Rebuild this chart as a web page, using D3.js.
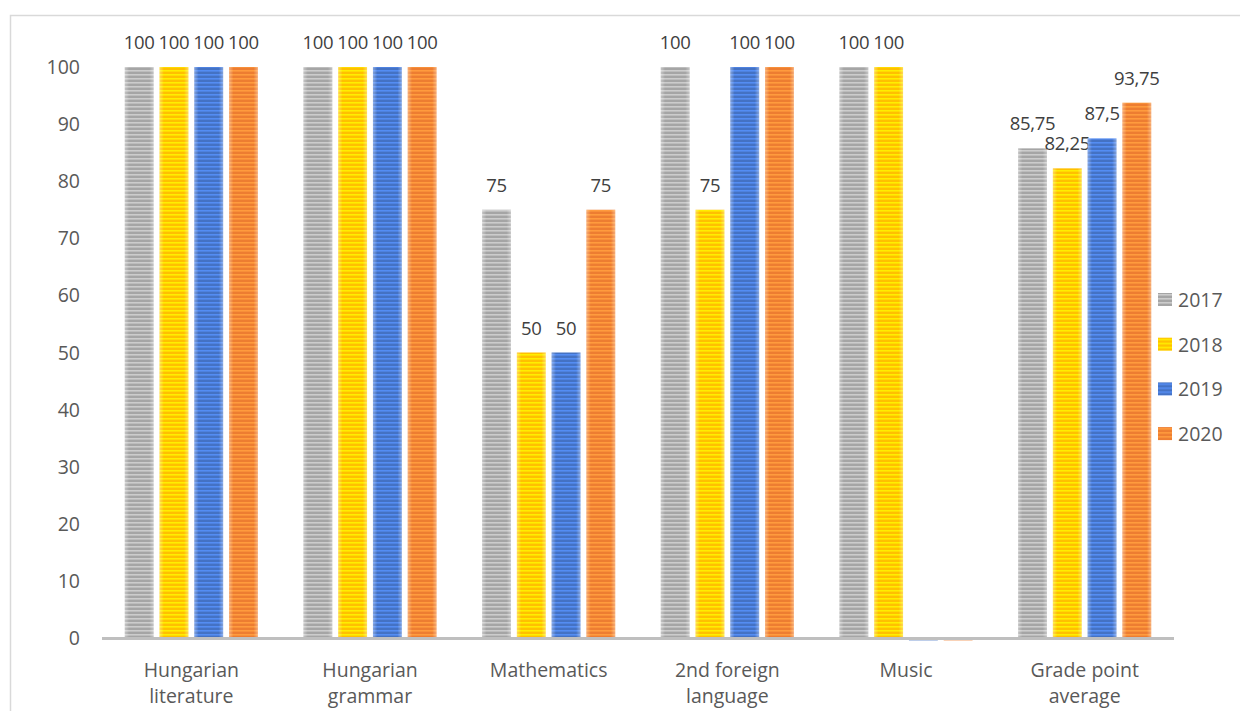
<!DOCTYPE html>
<html>
<head>
<meta charset="utf-8">
<script src="https://cdn.jsdelivr.net/npm/d3@7"></script>
<style>
  body { margin: 0; background: #fff; }
  svg { display: block; font-family: "Open Sans", sans-serif; }
</style>
</head>
<body>
<div id="chart"></div>
<script>
// chart data
var categories = ["Hungarian literature", "Hungarian grammar", "Mathematics", "2nd foreign language", "Music", "Grade point average"];
var years = ["2017", "2018", "2019", "2020"];
var v2017 = [100, 100, 75, 100, 100, 85.75];
var v2018 = [100, 100, 50, 75, 100, 82.25];
var v2019 = [100, 100, 50, 100, 0, 87.5];
var v2020 = [100, 100, 75, 100, 0, 93.75];
var yTicks = [0, 10, 20, 30, 40, 50, 60, 70, 80, 90, 100];

var series = [v2017, v2018, v2019, v2020];
var colors = ["#a5a5a5", "#ffc000", "#4472c4", "#ed7d31"];

var W = 1240, H = 711;
var svg = d3.select("#chart").append("svg")
  .attr("width", W)
  .attr("height", H);

// outer frame (runs off the right / bottom edge like the original)
svg.append("rect")
  .attr("x", 10.5).attr("y", 15.5)
  .attr("width", 1240).attr("height", 720)
  .attr("fill", "none")
  .attr("stroke", "#d9d9d9")
  .attr("stroke-width", 1.5);

var defs = svg.append("defs");
// striped fill per series
colors.forEach(function(c, i) {
  var p = defs.append("pattern")
    .attr("id", "stripe" + i)
    .attr("patternUnits", "userSpaceOnUse")
    .attr("width", 8).attr("height", 4);
  p.append("rect").attr("width", 8).attr("height", 4).attr("fill", c);
  p.append("rect").attr("y", 2).attr("width", 8).attr("height", 1.6)
    .attr("fill", d3.color(c).brighter(0.6));
});
// soft lighter edges on the bars
var g = defs.append("linearGradient").attr("id", "edge")
  .attr("x1", 0).attr("x2", 1).attr("y1", 0).attr("y2", 0);
g.append("stop").attr("offset", "0").attr("stop-color", "#fff").attr("stop-opacity", 0.35);
g.append("stop").attr("offset", "0.15").attr("stop-color", "#fff").attr("stop-opacity", 0);
g.append("stop").attr("offset", "0.85").attr("stop-color", "#fff").attr("stop-opacity", 0);
g.append("stop").attr("offset", "1").attr("stop-color", "#fff").attr("stop-opacity", 0.35);

var x0 = d3.scaleBand().domain(categories).range([102, 1174]).padding(0);
var groupW = x0.bandwidth() * 0.745;
var x1 = d3.scaleBand().domain(years).range([0, groupW]).paddingInner(0.17);
var y = d3.scaleLinear().domain([0, 100]).range([638, 67]);

// y tick labels
svg.append("g").selectAll("text")
  .data(yTicks)
  .enter().append("text")
  .attr("x", 80)
  .attr("y", function(d) { return y(d); })
  .attr("dy", "0.36em")
  .attr("text-anchor", "end")
  .attr("fill", "#595959")
  .style("font-size", "19.5px")
  .text(function(d) { return d; });

var fmt = function(d) { return String(d).replace(".", ","); };

categories.forEach(function(cat, ci) {
  var gx = x0(cat) + (x0.bandwidth() - groupW) / 2;
  years.forEach(function(yr, si) {
    var v = series[si][ci];
    var bx = gx + x1(yr);
    if (v > 0) {
      svg.append("rect")
        .attr("x", bx).attr("y", y(v))
        .attr("width", x1.bandwidth()).attr("height", y(0) - y(v))
        .attr("fill", "url(#stripe" + si + ")");
      svg.append("rect")
        .attr("x", bx).attr("y", y(v))
        .attr("width", x1.bandwidth()).attr("height", y(0) - y(v))
        .attr("fill", "url(#edge)");
      svg.append("text")
        .attr("x", bx + x1.bandwidth() / 2)
        .attr("y", y(v) - 18)
        .attr("text-anchor", "middle")
        .attr("fill", "#404040")
        .style("font-size", "18.5px")
        .style("letter-spacing", "-0.3px")
        .text(fmt(v));
    } else {
      // zero bars show as a faint sliver under the axis
      svg.append("rect")
        .attr("x", bx).attr("y", y(0) + 1)
        .attr("width", x1.bandwidth()).attr("height", 2)
        .attr("fill", colors[si]).attr("opacity", 0.35);
    }
  });
});

// baseline
svg.append("line")
  .attr("x1", 102).attr("x2", 1174)
  .attr("y1", y(0) + 0.5).attr("y2", y(0) + 0.5)
  .attr("stroke", "#bfbfbf")
  .attr("stroke-width", 3);

// category labels, wrapped onto two lines
var wrap = {
  "Hungarian literature": ["Hungarian", "literature"],
  "Hungarian grammar": ["Hungarian", "grammar"],
  "2nd foreign language": ["2nd foreign", "language"],
  "Grade point average": ["Grade point", "average"]
};
categories.forEach(function(cat) {
  var lines = wrap[cat] || [cat];
  var t = svg.append("text")
    .attr("x", x0(cat) + x0.bandwidth() / 2)
    .attr("y", 677)
    .attr("text-anchor", "middle")
    .attr("fill", "#595959")
    .style("font-size", "19.5px");
  lines.forEach(function(l, i) {
    t.append("tspan")
      .attr("x", x0(cat) + x0.bandwidth() / 2)
      .attr("dy", i === 0 ? 0 : 26)
      .text(l);
  });
});

// legend
var leg = svg.append("g").selectAll("g")
  .data(years)
  .enter().append("g")
  .attr("transform", function(d, i) { return "translate(1158," + (300 + i * 44.7) + ")"; });
leg.append("rect")
  .attr("x", 0).attr("y", -7)
  .attr("width", 14).attr("height", 13)
  .attr("fill", function(d, i) { return "url(#stripe" + i + ")"; });
leg.append("text")
  .attr("x", 20)
  .attr("dy", "0.36em")
  .attr("fill", "#595959")
  .style("font-size", "19.5px")
  .text(function(d) { return d; });
</script>
</body>
</html>
